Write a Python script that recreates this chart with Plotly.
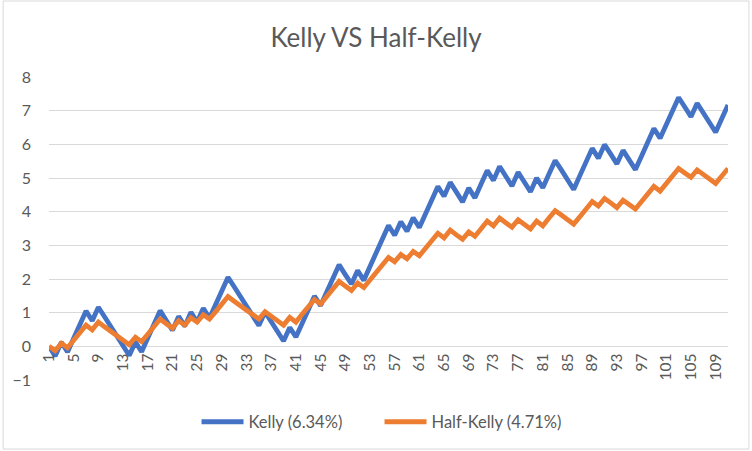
import plotly.graph_objects as go

categories = [str(i) for i in range(1, 112)]

kelly = [0.00, -0.29, 0.12, -0.17, 0.24, 0.64, 1.05, 0.76, 1.16, 0.88,
         0.59, 0.30, 0.01, -0.27, 0.13, -0.16, 0.25, 0.65, 1.06, 0.77,
         0.48, 0.89, 0.60, 1.01, 0.72, 1.13, 0.84, 1.24, 1.65, 2.05,
         1.77, 1.48, 1.19, 0.90, 0.62, 1.02, 0.73, 0.45, 0.16, 0.56,
         0.28, 0.68, 1.09, 1.49, 1.21, 1.61, 2.02, 2.42, 2.13, 1.85,
         2.25, 1.96, 2.37, 2.78, 3.18, 3.59, 3.30, 3.70, 3.42, 3.82,
         3.53, 3.94, 4.35, 4.75, 4.46, 4.87, 4.58, 4.29, 4.70, 4.41,
         4.82, 5.22, 4.93, 5.34, 5.05, 4.76, 5.17, 4.88, 4.59, 5.00,
         4.71, 5.12, 5.52, 5.24, 4.95, 4.66, 5.07, 5.47, 5.88, 5.59,
         5.99, 5.71, 5.42, 5.82, 5.54, 5.25, 5.65, 6.06, 6.47, 6.18,
         6.58, 6.99, 7.39, 7.11, 6.82, 7.22, 6.94, 6.65, 6.36, 6.77,
         7.17]

half_kelly = [0.00, -0.13, 0.09, -0.04, 0.18, 0.40, 0.63, 0.49, 0.72, 0.58,
              0.45, 0.31, 0.18, 0.05, 0.27, 0.14, 0.36, 0.58, 0.81, 0.67,
              0.54, 0.76, 0.63, 0.85, 0.72, 0.94, 0.81, 1.03, 1.25, 1.48,
              1.34, 1.21, 1.08, 0.94, 0.81, 1.03, 0.90, 0.77, 0.63, 0.86,
              0.72, 0.95, 1.17, 1.39, 1.26, 1.48, 1.70, 1.93, 1.79, 1.66,
              1.88, 1.75, 1.97, 2.20, 2.42, 2.64, 2.51, 2.73, 2.60, 2.82,
              2.69, 2.91, 3.13, 3.36, 3.22, 3.45, 3.31, 3.18, 3.40, 3.27,
              3.49, 3.72, 3.58, 3.81, 3.67, 3.54, 3.76, 3.63, 3.49, 3.72,
              3.58, 3.81, 4.03, 3.90, 3.76, 3.63, 3.85, 4.08, 4.30, 4.17,
              4.39, 4.26, 4.12, 4.34, 4.21, 4.08, 4.30, 4.52, 4.75, 4.61,
              4.84, 5.06, 5.28, 5.15, 5.02, 5.24, 5.11, 4.97, 4.84, 5.06,
              5.28]

series_names = ["Kelly (6.34%)", "Half-Kelly (4.71%)"]
y_ticks = list(range(-1, 9))
x_ticks = categories[::4]

W, H = 752, 451
L, R, T, B = 47, 24, 77, 71
pw, ph = W - L - R, H - T - B

FONT = "Lato, 'Open Sans', sans-serif"
GREY = "#595959"

fig = go.Figure()
fig.add_trace(go.Scatter(x=categories, y=kelly, mode="lines", name=series_names[0],
                         line=dict(color="#4472C4", width=4.8)))
fig.add_trace(go.Scatter(x=categories, y=half_kelly, mode="lines", name=series_names[1],
                         line=dict(color="#ED7D31", width=4.8)))

fig.update_layout(
    width=W, height=H,
    margin=dict(l=L, r=R, t=T, b=B, pad=0),
    paper_bgcolor="white", plot_bgcolor="white",
    font=dict(family=FONT, color=GREY, size=16),
    title=dict(text="Kelly VS Half-Kelly", x=0.5, xanchor="center",
               y=1 - 38 / H, yanchor="middle", yref="container",
               font=dict(family=FONT, size=26, color=GREY)),
    showlegend=True,
    legend=dict(orientation="h", x=0.5 - 9 / pw, xanchor="center",
                y=-(422 - (H - B)) / ph, yanchor="middle",
                font=dict(family=FONT, size=16.5, color=GREY),
                itemwidth=42, entrywidth=126, bgcolor="rgba(0,0,0,0)"),
    xaxis=dict(type="category", tickmode="array", tickvals=x_ticks, ticktext=x_ticks,
               tickangle=-90, showgrid=False, showline=False, zeroline=False,
               anchor="free", position=1 / 9, ticks="", ticklabelstandoff=3,
               tickfont=dict(family=FONT, size=15.5, color=GREY)),
    yaxis=dict(range=[-1, 8], tickmode="array", tickvals=y_ticks,
               showgrid=True, gridcolor="#D9D9D9", gridwidth=1,
               zeroline=False, showline=False, ticks="",
               ticklabelstandoff=17,
               tickfont=dict(family=FONT, size=16, color=GREY)),
    shapes=[dict(type="rect", xref="paper", yref="paper",
                 x0=(1 - L) / pw, x1=(749 - L) / pw,
                 y0=((H - B) - 449) / ph, y1=((H - B) - 1) / ph,
                 line=dict(color="#D9D9D9", width=1), layer="below")],
)

fig.write_html("out.html")
